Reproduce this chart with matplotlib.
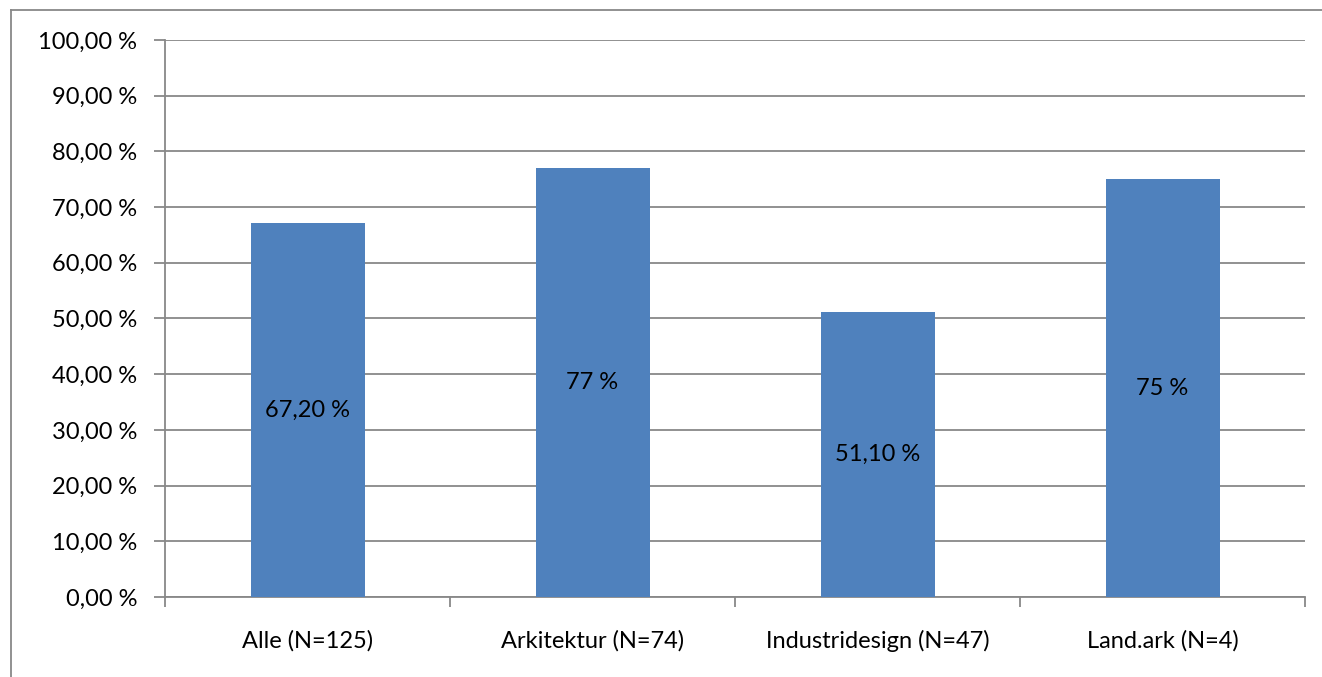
import matplotlib.pyplot as plt
from matplotlib.lines import Line2D
from matplotlib.ticker import FixedLocator

plt.rcParams['font.family'] = ['Lato', 'DejaVu Sans']

categories = ['Alle (N=125)', 'Arkitektur (N=74)', 'Industridesign (N=47)', 'Land.ark (N=4)']
values = [67.2, 77, 51.1, 75]
value_labels = ['67,20 %', '77 %', '51,10 %', '75 %']
yticks = list(range(0, 101, 10))
ytick_labels = ['%d,00 %%' % t for t in yticks]

W, H = 1322, 677
fig = plt.figure(figsize=(W / 100, H / 100), dpi=100)
ax = fig.add_axes([165 / W, 1 - 597 / H, (1305 - 165) / W, (597 - 40) / H])

grid_c = '#888888'
bar_c = '#4F81BD'
fs = 17

x = range(len(categories))
ax.bar(x, values, width=0.4, color=bar_c, zorder=3)
for xi, v, lab in zip(x, values, value_labels):
    ax.text(xi, v / 2, lab, ha='center', va='center', fontsize=fs, color='black', zorder=4)

ax.set_xlim(-0.5, len(categories) - 0.5)
ax.set_ylim(0, 100)
ax.set_yticks(yticks)
ax.set_yticklabels(ytick_labels, fontsize=fs)
ax.yaxis.grid(True, color=grid_c, linewidth=1.3, zorder=0)

ax.set_xticks(list(x))
ax.set_xticklabels(categories, fontsize=fs)
ax.tick_params(axis='x', length=0, pad=24)
ax.xaxis.set_minor_locator(FixedLocator([i - 0.5 for i in range(len(categories) + 1)]))
ax.tick_params(axis='x', which='minor', length=7, color=grid_c, width=1.3)
ax.tick_params(axis='y', length=8, color=grid_c, width=1.3, pad=12)

for s in ['top', 'right']:
    ax.spines[s].set_visible(False)
for s in ['left', 'bottom']:
    ax.spines[s].set_color(grid_c)
    ax.spines[s].set_linewidth(1.3)

# outer chart frame
fig.add_artist(Line2D([11 / W, 11 / W], [0, 1 - 10 / H], color='#888888', lw=1.3))
fig.add_artist(Line2D([11 / W, 1], [1 - 10 / H, 1 - 10 / H], color='#888888', lw=1.3))

fig.savefig('out.png', dpi=100)
